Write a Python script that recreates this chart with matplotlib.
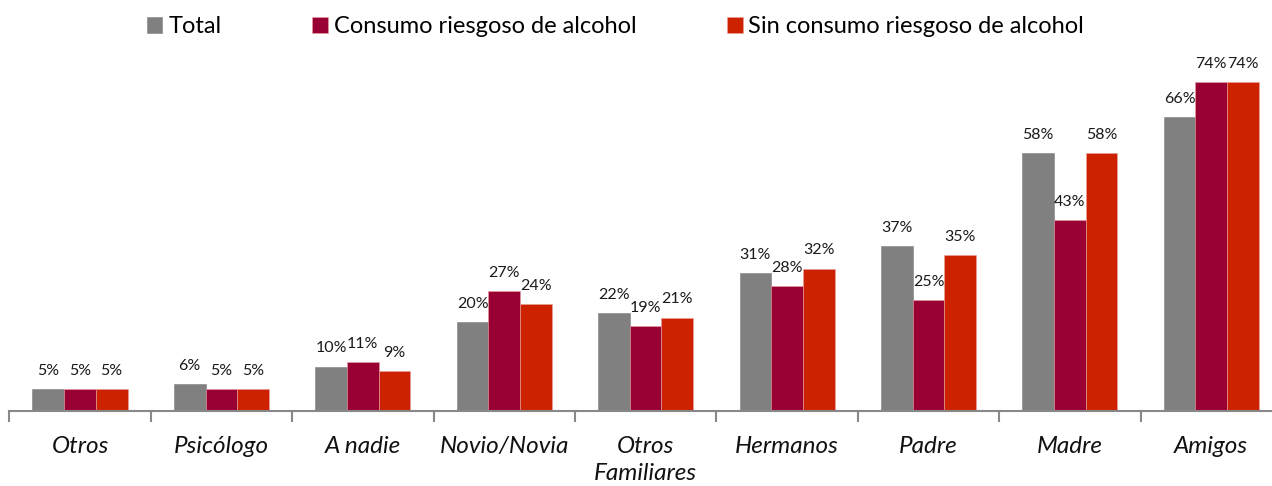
import matplotlib
matplotlib.use("Agg")
import matplotlib.pyplot as plt
import numpy as np

plt.rcParams['font.family'] = ['Lato', 'DejaVu Sans']

categories = ["Otros", "Psicólogo", "A nadie", "Novio/Novia", "Otros\nFamiliares",
              "Hermanos", "Padre", "Madre", "Amigos"]
series_names = ["Total", "Consumo riesgoso de alcohol", "Sin consumo riesgoso de alcohol"]
total = [5, 6, 10, 20, 22, 31, 37, 58, 66]
consumo = [5, 5, 11, 27, 19, 28, 25, 43, 74]
sin_consumo = [5, 5, 9, 24, 21, 32, 35, 58, 74]
colors = ["#808080", "#990033", "#CC2200"]

fig = plt.figure(figsize=(12.72, 4.86), dpi=100)
ax = fig.add_axes([9.3 / 1272, 75 / 486, (1282 - 9.3) / 1272, 356 / 486])

x = np.arange(len(categories))
w = 0.224
for i, (vals, name, c) in enumerate(zip([total, consumo, sin_consumo], series_names, colors)):
    pos = x + (i - 1) * w
    ax.bar(pos, vals, width=w, color=c, label=name, edgecolor="#e8a0a0" if i else c,
           linewidth=0.4)
    for px, v in zip(pos, vals):
        ax.annotate(f"{v}%", (px, v), xytext=(0, 8), textcoords="offset points",
                    ha="center", va="bottom", fontsize=11.5, color="#1a1a1a")

ax.set_xlim(-0.5, len(categories) - 0.5)
ax.set_ylim(0, 80)
ax.set_yticks([])
for s in ["top", "right", "left"]:
    ax.spines[s].set_visible(False)
ax.spines["bottom"].set_color("#888888")
ax.spines["bottom"].set_linewidth(1.5)

ax.set_xticks(x)
ax.set_xticklabels(categories, fontstyle="italic", fontsize=17.5, color="#111111",
                   linespacing=1.35)
ax.tick_params(axis="x", which="major", length=0, pad=18)
ax.set_xticks(np.arange(len(categories) + 1) - 0.5, minor=True)
ax.tick_params(axis="x", which="minor", length=8, width=1.5, color="#888888")

fig.legend(loc="center", bbox_to_anchor=(0.484, 0.945), ncol=3, frameon=False,
           fontsize=17, handlelength=0.65, handleheight=0.65, handletextpad=0.25,
           columnspacing=3.85)

fig.savefig("out.png", dpi=100)
